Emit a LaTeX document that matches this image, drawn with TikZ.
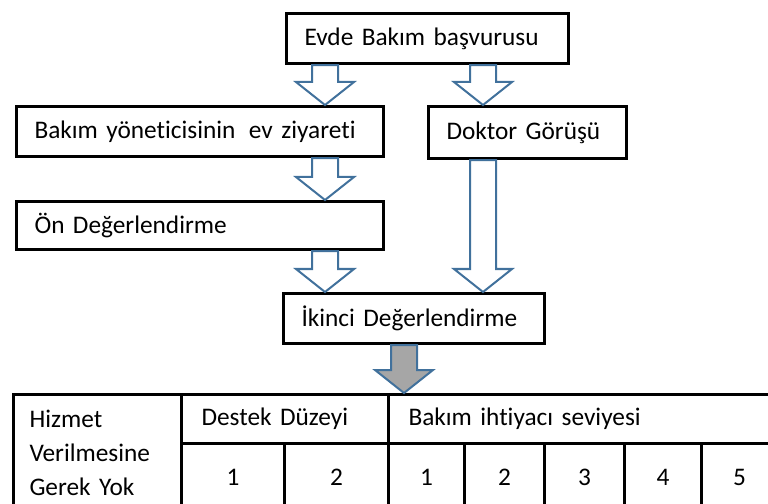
\documentclass[tikz,border=0pt]{standalone}
\usepackage{fontspec}
\setmainfont[Ligatures=NoCommon]{Carlito}
\usetikzlibrary{calc, positioning}
\definecolor{cblue}{HTML}{41719C}
\definecolor{cgrey}{HTML}{A6A6A6}
\tikzset{
  every picture/.style={font=\fontsize{18}{24}\selectfont, line width=0.075cm},
  box/.style={draw=black, fill=white, align=left, inner xsep=0.45cm, inner ysep=0pt, minimum height=1.25cm, anchor=north west},
  cell/.style={draw=black, inner sep=0pt, anchor=north west},
  barrow/.style={draw=cblue, line width=0.05cm, line join=miter},
}
% block arrow from #2 (shaft top) down to #3 (tip)
\newcommand{\blockarrow}[3][white]{%
  \draw[barrow, fill=#1] ($(#2)+(-13,0)$) -- ($(#3)+(-13,-23)$) -- ($(#3)+(-29,-23)$)
    -- (#3) -- ($(#3)+(29,-23)$) -- ($(#3)+(13,-23)$) -- ($(#2)+(13,0)$) -- cycle;}

\begin{document}
\begin{tikzpicture}[x=0.025cm, y=-0.025cm,
  numcell/.style={cell, minimum height=1.7cm}]
  \useasboundingbox (0,0) rectangle (768,504);
  \clip (0,0) rectangle (768,504);
  % lanes of the arrows
  \coordinate (lane) at (325,0);
  \coordinate (rlane) at (483,0);
  \coordinate (mlane) at (404,0);
  % boxes
  \node[box, text width=6.15cm] (apply) at (285,12) {Evde Bakım başvurusu};
  \node[box, text width=8.275cm] (visit) at (15,105) {Bakım yöneticisinin\hspace{0.2em} ev ziyareti};
  \node[box, text width=4.05cm, minimum height=1.3cm] (doctor) at (427,105) {Doktor Görüşü};
  \node[box, text width=8.275cm, minimum height=1.2cm] (pre) at (15,200) {Ön Değerlendirme};
  \node[box, text width=5.625cm] (second) at (282,292) {İkinci Değerlendirme};
  % table
  \node[cell, minimum width=4.2cm, minimum height=2.925cm, align=left, inner xsep=0.4cm, text width=3.4cm] (none) at (12,393) {Hizmet\\Verilmesine\\Gerek Yok};
  \node[cell, minimum height=1.225cm, align=left, inner xsep=0.5cm, text width=4.175cm] (support) at (180,393) {Destek Düzeyi};
  \node[cell, minimum height=1.225cm, align=left, inner xsep=0.5cm, text width=8.725cm] (need) at (387,393) {Bakım ihtiyacı seviyesi};
  \node[numcell, minimum width=2.575cm] (s1) at (180,442) {1};
  \node[numcell, minimum width=2.6cm] (s2) at (283,442) {2};
  \node[numcell, minimum width=1.9cm] (n1) at (387,442) {1};
  \node[numcell, minimum width=2cm] (n2) at (463,442) {2};
  \node[numcell, minimum width=2cm] (n3) at (543,442) {3};
  \node[numcell, minimum width=1.925cm] (n4) at (623,442) {4};
  \node[numcell, minimum width=1.9cm] (n5) at (700,442) {5};
  % arrows
  \coordinate (a1) at (apply.south -| lane);
  \coordinate (a2) at (apply.south -| rlane);
  \blockarrow{a1}{visit.north -| lane}
  \blockarrow{a2}{doctor.north -| rlane}
  \coordinate (b1) at (visit.south -| lane);
  \blockarrow{b1}{pre.north -| lane}
  \coordinate (c1) at (pre.south -| lane);
  \blockarrow{c1}{second.north -| lane}
  \coordinate (d1) at (doctor.south -| rlane);
  \blockarrow{d1}{second.north -| rlane}
  \coordinate (e1) at (second.south -| mlane);
  \blockarrow[cgrey]{e1}{need.north -| mlane}
\end{tikzpicture}
\end{document}
